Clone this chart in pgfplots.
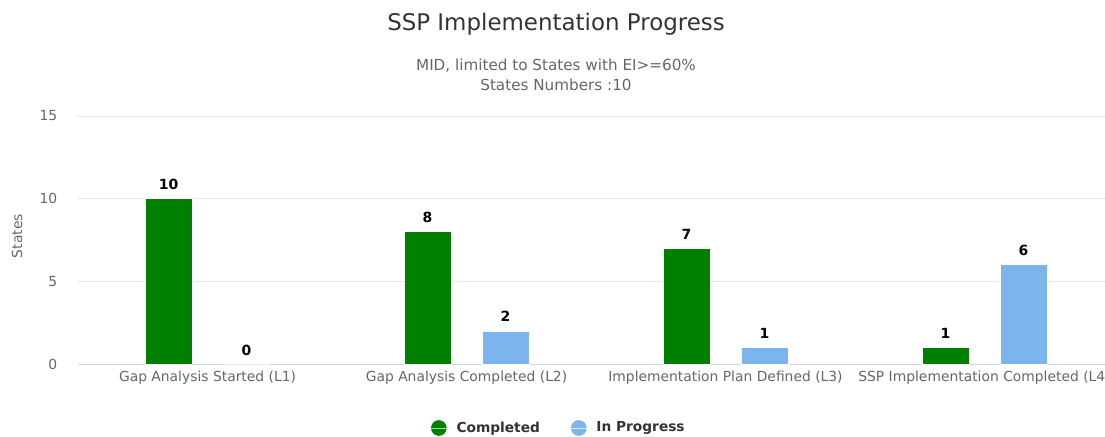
\documentclass[border=0pt]{standalone}
\usepackage{fontspec}
\setmainfont{DejaVu Sans}
\usepackage{pgfplots}
\pgfplotsset{compat=1.18}
\definecolor{hcgreen}{HTML}{008000}
\definecolor{hcblue}{HTML}{7CB5EC}
\definecolor{hcgrid}{HTML}{E6E6E6}
\definecolor{hcaxis}{HTML}{CCD6EB}
\definecolor{hctext}{HTML}{666666}
\definecolor{hctitle}{HTML}{333333}
\pgfplotsset{dotlegend/.style={legend image code/.code={\fill[##1,draw=none] (0pt,0pt) circle (5.9pt); \path (-5.9pt,0pt) rectangle (11pt,0pt);}}}
\begin{document}
\begin{tikzpicture}
\useasboundingbox (0pt,0pt) rectangle (828.75pt,-327pt);
\clip (0pt,0pt) rectangle (828.75pt,-327pt);
\node[anchor=base, font=\fontsize{17.2}{19}\selectfont, text=hctitle] at (417pt,-22.5pt) {SSP Implementation Progress};
\node[anchor=base, font=\fontsize{11.4}{13}\selectfont, text=hctext] at (417pt,-52.5pt) {MID, limited to States with EI>=60\%};
\node[anchor=base, font=\fontsize{11.4}{13}\selectfont, text=hctext] at (417pt,-67.5pt) {States Numbers :10};
\begin{axis}[
  at={(58.5pt,-273pt)}, anchor=south west,
  scale only axis, width=777pt, height=186pt,
  xmin=-0.5, xmax=3.5, ymin=0, ymax=15,
  ybar=23.25pt, bar width=35.25pt,
  xtick={0,1,2,3},
  xticklabels={Gap Analysis Started (L1),Gap Analysis Completed (L2),Implementation Plan Defined (L3),SSP Implementation Completed (L4)},
  ytick={0,5,10,15},
  major tick length=0pt,
  axis x line*=bottom, axis y line*=left,
  x axis line style={draw=hcaxis, line width=0.75pt, -},
  y axis line style={draw=none},
  ymajorgrids, grid style={draw=hcgrid, line width=0.75pt},
  tick label style={font=\fontsize{10.4}{12}\selectfont, text=hctext},
  yticklabel style={anchor=east, xshift=-12pt},
  xticklabel style={anchor=base, yshift=-13pt},
  /pgf/number format/assume math mode=true,
  ylabel={States}, ylabel style={font=\fontsize{10.4}{12}\selectfont, text=hctext, at={(axis description cs:-0.0589,0.516)}, anchor=center},
  nodes near coords,
  every node near coord/.append style={font=\bfseries\fontsize{10.5}{13}\selectfont, text=black, anchor=base, yshift=6.75pt},
  legend style={at={(axis description cs:0.4643,-0.258)}, anchor=center, draw=none, fill=none,
    legend columns=2, font=\bfseries\fontsize{10.3}{13}\selectfont, text=hctitle,
    /tikz/every even column/.append style={column sep=21pt},
    legend cell align=left},
]
\addplot[fill=hcgreen, draw=white, line width=0.5pt, dotlegend] coordinates {(0,10) (1,8) (2,7) (3,1)};
\addplot[fill=hcblue, draw=white, line width=0.5pt, dotlegend] coordinates {(0,0) (1,2) (2,1) (3,6)};
\legend{Completed, In Progress}
\end{axis}
\end{tikzpicture}
\end{document}
